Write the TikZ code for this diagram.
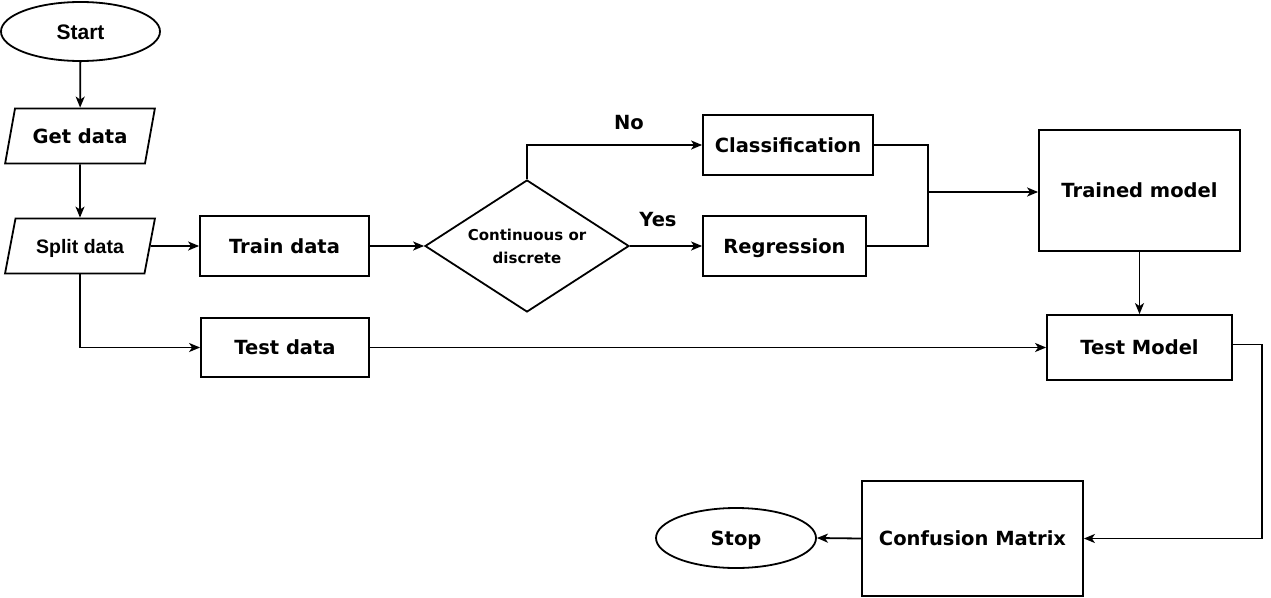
\documentclass[tikz,border=0pt]{standalone}
\usepackage{fontspec}
\setmainfont{DejaVu Sans}
\newfontfamily\arialfont{Liberation Sans}
\usetikzlibrary{shapes.geometric,arrows.meta}
\tikzset{
  txt/.style={font=\fontsize{19.5}{22}\selectfont\bfseries, text height=14.2pt, text depth=0pt},
  box/.style={draw, line width=1.8pt, rectangle, inner sep=0pt, txt},
  term/.style={draw, line width=1.8pt, ellipse, inner sep=0pt, minimum width=159pt, minimum height=59pt},
  para/.style={draw, line width=1.8pt, trapezium, trapezium left angle=63, trapezium right angle=117, trapezium stretches=true, minimum width=150pt, minimum height=55pt, inner sep=0pt},
  lbl/.style={txt},
  conn/.style={line width=1.8pt, -{Stealth[length=11pt,width=9pt,inset=3pt]}},
  plain/.style={line width=1.8pt}
}
\begin{document}
\begin{tikzpicture}[x=1pt,y=-1pt]
\useasboundingbox (0,0) rectangle (1271,597);
\node[term, font=\arialfont\fontsize{21}{24}\selectfont\bfseries, text height=15pt, text depth=0pt] (start) at (80.5,31.5) {Start};
\node[para, txt] (get) at (80,136) {Get data};
\node[para, font=\arialfont\fontsize{19.5}{22}\selectfont\bfseries, text height=14pt, text depth=0pt] (split) at (80,246) {Split data};
\node[box, minimum width=169pt, minimum height=60pt] (train) at (284.5,246) {Train data};
\node[box, minimum width=168pt, minimum height=59pt] (test) at (285,347.5) {Test data};
\node[draw, line width=1.8pt, diamond, inner sep=0pt, minimum width=204pt, minimum height=132pt, aspect=1.55, align=center, font=\fontsize{15}{23}\selectfont\bfseries] (dec) at (527,246) {Continuous or\\discrete};
\node[box, minimum width=170pt, minimum height=60pt] (cls) at (788,145) {Classification};
\node[box, minimum width=163pt, minimum height=60pt] (reg) at (784.5,246) {Regression};
\node[box, minimum width=201pt, minimum height=121pt] (trained) at (1139.5,190.5) {Trained model};
\node[box, minimum width=185pt, minimum height=65pt] (testm) at (1139.5,347.5) {Test Model};
\node[box, minimum width=221pt, minimum height=115pt] (cm) at (972.5,538.5) {Confusion Matrix};
\node[term, minimum width=160pt, minimum height=60pt, txt] (stop) at (736,538) {Stop};
\node[lbl] (no) at (629,122) {No};
\node[lbl] (yes) at (658,219) {Yes};
\coordinate (j) at (928,192);
\draw[conn] (start) -- (get);
\draw[conn] (get) -- (split);
\draw[conn] (split.east) -- (train.west);
\draw[conn] (split.south) |- (test.west);
\draw[conn] (train.east) -- (dec.west);
\draw[conn] (dec.north) |- (cls.west);
\draw[conn] (dec.east) -- (reg.west);
\draw[plain] (cls.east) -| (j);
\draw[plain] (reg.east) -| (j);
\draw[conn] (j) -- (j -| trained.west);
\draw[conn] (trained) -- (testm);
\draw[conn] (test.east) -- (testm.west);
\draw[conn] ([yshift=3pt]testm.east) -- ++(29,0) |- (cm.east);
\draw[conn] (cm.west) -- (stop.east);
\end{tikzpicture}
\end{document}
